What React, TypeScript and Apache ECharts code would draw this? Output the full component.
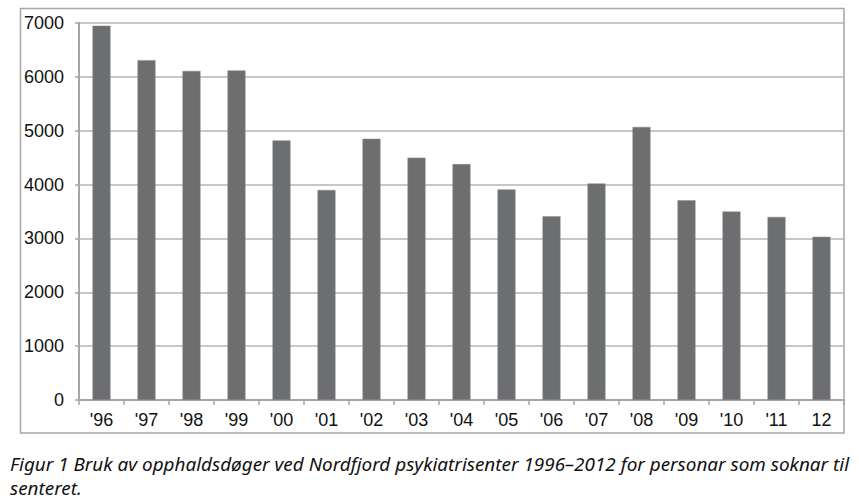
import React, { useEffect, useRef } from "react";
import * as echarts from "echarts";

const categories = ["'96", "'97", "'98", "'99", "'00", "'01", "'02", "'03", "'04", "'05", "'06", "'07", "'08", "'09", "'10", "'11", "12"];
const values = [6950, 6310, 6110, 6120, 4820, 3900, 4850, 4500, 4380, 3910, 3410, 4020, 5070, 3710, 3500, 3400, 3030];
const captionLine1 = "Figur 1 Bruk av opphaldsdøger ved Nordfjord psykiatrisenter 1996–2012 for personar som soknar til";
const captionLine2 = "senteret.";

export default function App() {
  const ref = useRef<HTMLDivElement>(null);
  useEffect(() => {
    const chart = echarts.init(ref.current!, null, { renderer: "svg" });
    chart.setOption({
      animation: false,
      backgroundColor: "#ffffff",
      grid: { left: 79, right: 15, top: 23, bottom: 100, containLabel: false },
      xAxis: {
        type: "category",
        data: categories,
        axisLine: { show: true, lineStyle: { color: "#a6a6a6", width: 2 } },
        axisTick: { show: true, alignWithLabel: false, length: 5, lineStyle: { color: "#a6a6a6", width: 1.5 } },
        axisLabel: { color: "#111", fontFamily: "Liberation Sans", fontSize: 18, margin: 11 },
        splitLine: { show: false },
      },
      yAxis: {
        type: "value",
        min: 0,
        max: 7000,
        interval: 1000,
        axisLine: { show: true, lineStyle: { color: "#a6a6a6", width: 2 } },
        axisTick: { show: true, length: 4, lineStyle: { color: "#a6a6a6", width: 1.5 } },
        axisLabel: { color: "#111", fontFamily: "Liberation Sans", fontSize: 18, margin: 15, formatter: (v: number) => String(v) },
        splitLine: { show: true, lineStyle: { color: "#b5b5b5", width: 1.5 } },
      },
      series: [
        {
          type: "bar",
          data: values,
          barWidth: "40%",
          itemStyle: { color: "#6d6e70", borderColor: "#8a8a8c", borderWidth: 0.5 },
        },
      ],
      graphic: [
        {
          type: "rect",
          shape: { x: 20.5, y: 8.5, width: 823.5, height: 424.5 },
          style: { fill: "none", stroke: "#a6a6a6", lineWidth: 1.5 },
          silent: true,
        },
        {
          type: "text",
          x: 10,
          y: 473,
          style: {
            text: captionLine1,
            fontFamily: "Noto Sans",
            fontStyle: "italic",
            fontSize: 18.9,
            fill: "#111",
            verticalAlign: "bottom",
          },
        },
        {
          type: "text",
          x: 10,
          y: 497,
          style: {
            text: captionLine2,
            fontFamily: "Noto Sans",
            fontStyle: "italic",
            fontSize: 18.9,
            fill: "#111",
            verticalAlign: "bottom",
          },
        },
      ],
    });
    return () => chart.dispose();
  }, []);
  return <div ref={ref} style={{ position: "fixed", left: 0, top: 0, width: 859, height: 500 }} />;
}
